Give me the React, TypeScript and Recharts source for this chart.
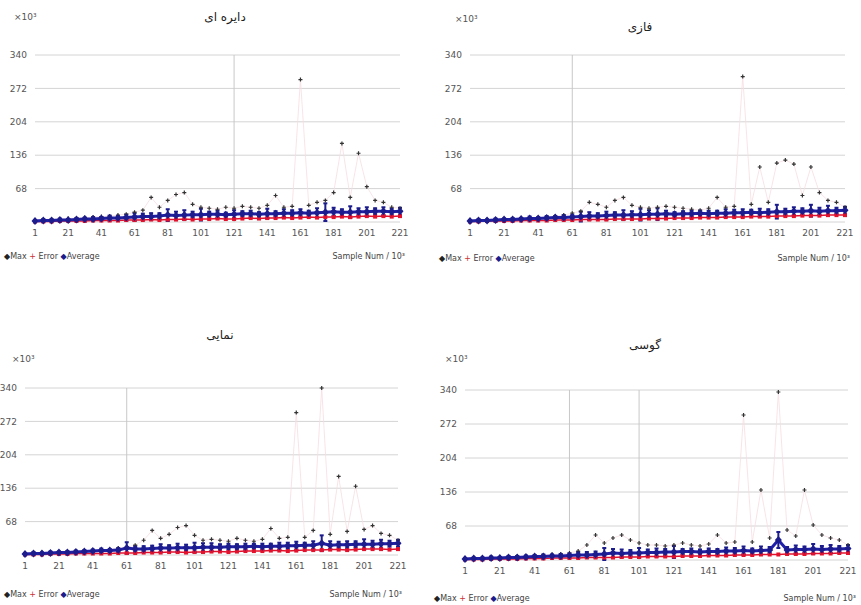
import React from "react";
import { LineChart, Line, XAxis, YAxis, CartesianGrid, ErrorBar, ReferenceLine } from "recharts";

const samples = [1,6,11,16,21,26,31,36,41,46,51,56,61,66,71,76,81,86,91,96,101,106,111,116,121,126,131,136,141,146,151,156,161,166,171,176,181,186,191,196,201,206,211,216,221];
const xTicks = [1,21,41,61,81,101,121,141,161,181,201,221];
const yTicks = [0,68,136,204,272,340];
const titles = ["دایره ای", "فازی", "نمایی", "گوسی"];

const avg1 = [2,3,3,4,4,5,6,6,7,8,8,9,10,11,11,12,14,13,14,15,15,16,16,15,16,17,17,16,17,17,18,18,19,18,19,20,21,20,20,21,21,22,22,21,22];
const bar1 = [2,3,2,3,2,3,3,4,3,5,4,6,8,6,7,6,12,8,10,6,12,5,7,4,8,5,6,4,10,5,8,6,7,5,9,18,8,6,12,7,9,6,8,6,7];
const max1 = [4,5,6,6,7,8,9,10,11,12,14,16,20,24,50,30,44,56,60,36,30,28,26,30,28,32,30,28,34,54,30,32,290,34,40,44,60,160,50,140,72,44,40,30,28];
const err1 = [1,1,1,2,2,2,2,3,3,3,3,4,4,4,5,4,5,5,6,5,6,6,7,6,6,7,8,7,8,8,9,8,9,10,9,10,10,11,10,11,12,11,12,11,12];

const avg2 = [2,3,3,4,5,5,6,7,7,8,9,9,10,11,12,12,13,14,14,15,15,16,16,17,16,17,17,18,17,18,18,19,19,20,19,20,21,21,22,22,23,22,23,23,24];
const bar2 = [2,3,2,3,2,3,2,4,3,4,3,5,4,10,8,6,8,6,10,7,12,8,12,6,4,5,6,5,6,5,8,6,7,5,8,6,14,6,8,6,12,7,10,6,7];
const max2 = [4,5,5,6,6,7,8,8,9,10,12,14,18,22,40,36,30,44,50,34,30,28,30,32,30,28,26,24,28,50,30,32,296,36,112,40,120,126,118,54,112,60,44,40,30];
const err2 = [1,1,2,2,2,2,3,3,3,3,4,4,4,5,5,5,5,6,6,6,6,7,7,7,8,8,8,9,9,9,10,10,10,11,11,11,12,12,12,13,13,13,14,14,14];

const avg3 = [2,3,3,4,5,5,6,7,8,9,9,10,14,12,12,13,14,14,15,15,15,16,16,16,17,17,17,18,17,18,18,19,19,20,20,24,20,21,21,22,22,22,23,23,24];
const bar3 = [2,3,2,3,2,3,3,3,3,4,3,4,12,6,6,6,8,6,8,6,10,8,8,6,6,5,6,5,6,5,7,6,8,5,8,16,8,6,7,6,10,7,8,6,7];
const max3 = [4,5,5,6,6,7,8,8,9,10,11,14,16,20,30,50,34,42,56,60,40,30,32,30,28,34,30,28,32,54,34,36,290,36,50,340,42,160,48,140,52,60,44,40,30];
const err3 = [1,1,1,2,2,2,3,3,3,3,3,4,4,4,5,5,5,6,6,5,6,6,7,7,6,7,8,8,8,9,9,8,9,10,10,10,11,11,10,11,12,12,12,11,12];

const avg4 = [2,3,3,4,4,5,5,6,7,7,8,8,9,10,10,11,12,14,13,14,14,15,15,16,16,17,17,16,17,17,18,18,19,18,19,20,40,20,21,21,22,21,22,22,23];
const bar4 = [2,2,2,3,2,3,3,3,3,4,3,4,4,6,6,6,12,8,8,6,10,6,8,6,12,5,6,5,6,5,7,6,8,5,8,6,16,6,8,6,10,7,8,6,7];
const max4 = [4,5,5,6,6,7,8,8,9,10,11,12,14,18,30,50,34,44,50,40,34,30,30,28,30,34,30,28,32,50,34,36,290,36,140,44,336,60,48,140,70,50,44,40,30];
const err4 = [1,1,1,2,2,2,2,3,3,3,4,4,4,4,5,5,5,5,6,6,6,7,7,7,7,8,8,8,9,9,9,10,10,10,11,11,11,12,12,12,13,13,13,14,14];

const vLines = [[121], [61], [61], [61, 101]];

const build = (avg: number[], bar: number[], mx: number[], er: number[]) =>
  samples.map((s, i) => ({ s, avg: avg[i], bar: bar[i], max: mx[i], err: er[i] }));

const datasets = [build(avg1, bar1, max1, err1), build(avg2, bar2, max2, err2), build(avg3, bar3, max3, err3), build(avg4, bar4, max4, err4)];

const Diamond = (props: any) => {
  const { cx, cy } = props;
  if (cx == null || cy == null) return null;
  return <polygon points={`${cx},${cy - 4} ${cx + 3.5},${cy} ${cx},${cy + 4} ${cx - 3.5},${cy}`} fill="#1c1c8c" />;
};
const Plus = (props: any) => {
  const { cx, cy } = props;
  if (cx == null || cy == null) return null;
  return <path d={`M${cx - 2},${cy}H${cx + 2}M${cx},${cy - 2}V${cy + 2}`} stroke="#333" strokeWidth={1.2} />;
};
const RedSq = (props: any) => {
  const { cx, cy } = props;
  if (cx == null || cy == null) return null;
  return <rect x={cx - 2} y={cy - 2} width={4} height={4} fill="#e3122c" />;
};

const font = "'DejaVu Sans', sans-serif";

type PanelCfg = { L: number; T: number; W: number; H: number; margin: any; yw: number; titleX: number; titleY: number; unitX: number; unitY: number; legY: number; rightX: number };

const panels: PanelCfg[] = [
  { L: 0, T: 0, W: 410, H: 250, margin: { top: 55, right: 10, bottom: 8, left: 5 }, yw: 30, titleX: 225, titleY: 10, unitX: 14, unitY: 12, legY: 252, rightX: 405 },
  { L: 435, T: 0, W: 420, H: 250, margin: { top: 55, right: 10, bottom: 8, left: 5 }, yw: 30, titleX: 640, titleY: 20, unitX: 455, unitY: 14, legY: 254, rightX: 850 },
  { L: 0, T: 330, W: 408, H: 250, margin: { top: 58, right: 10, bottom: 5, left: 0 }, yw: 25, titleX: 220, titleY: 328, unitX: 12, unitY: 354, legY: 590, rightX: 402 },
  { L: 430, T: 330, W: 428, H: 255, margin: { top: 60, right: 10, bottom: 5, left: 5 }, yw: 30, titleX: 645, titleY: 338, unitX: 445, unitY: 354, legY: 594, rightX: 856 },
];

const Panel = ({ cfg, idx }: { cfg: PanelCfg; idx: number }) => (
  <>
    <div style={{ position: "absolute", left: cfg.L, top: cfg.T }}>
      <LineChart width={cfg.W} height={cfg.H} data={datasets[idx]} margin={cfg.margin}>
        <CartesianGrid vertical={false} stroke="#d4d4d4" />
        {vLines[idx].map((v) => (
          <ReferenceLine key={v} x={v} stroke="#c8c8c8" />
        ))}
        <XAxis dataKey="s" type="number" domain={[1, 221]} ticks={xTicks} axisLine={false} tickLine={false} height={20}
          tick={{ fontSize: 9, fill: "#555", fontFamily: font }} interval={0} />
        <YAxis type="number" domain={[0, 340]} ticks={yTicks} width={cfg.yw} axisLine={false} tickLine={false}
          tick={{ fontSize: 9, fill: "#555", fontFamily: font }} tickFormatter={(v: number) => (v === 0 ? "" : String(v))} />
        <Line dataKey="max" stroke="#f6dde2" strokeWidth={0.8} dot={<Plus />} isAnimationActive={false} />
        <Line dataKey="err" stroke="#e3122c" strokeWidth={1.5} dot={<RedSq />} isAnimationActive={false} />
        <Line dataKey="avg" stroke="#2020a8" strokeWidth={3} dot={<Diamond />} isAnimationActive={false}>
          <ErrorBar dataKey="bar" width={2} stroke="#1c1c8c" strokeWidth={2} direction="y" />
        </Line>
      </LineChart>
    </div>
    <div style={{ position: "absolute", left: cfg.titleX - 60, top: cfg.titleY, width: 120, textAlign: "center", fontFamily: font, fontSize: 12, color: "#222" }} dir="rtl">
      {titles[idx]}
    </div>
    <div style={{ position: "absolute", left: cfg.unitX, top: cfg.unitY, fontFamily: font, fontSize: 9, color: "#555" }}>
      ×10³
    </div>
    <div style={{ position: "absolute", left: cfg.L + 4, top: cfg.legY, fontFamily: font, fontSize: 8, color: "#444", whiteSpace: "nowrap" }}>
      <span style={{ color: "#222" }}>◆</span>Max <span style={{ color: "#c33" }}>+</span> Error <span style={{ color: "#1c1c8c" }}>◆</span>Average
    </div>
    <div style={{ position: "absolute", left: cfg.rightX - 140, top: cfg.legY, width: 140, textAlign: "right", fontFamily: font, fontSize: 8, color: "#444" }}>
      Sample Num / 10³
    </div>
  </>
);

export default function App() {
  return (
    <div style={{ position: "absolute", left: 0, top: 0, width: 861, height: 605, background: "#fff", overflow: "hidden" }}>
      {panels.map((p, i) => (
        <Panel key={i} cfg={p} idx={i} />
      ))}
    </div>
  );
}
